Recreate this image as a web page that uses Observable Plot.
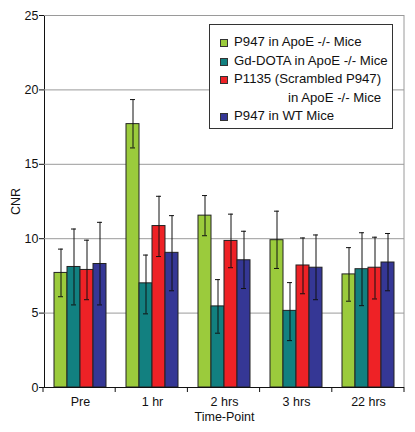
<!DOCTYPE html>
<html><head><meta charset="utf-8">
<script src="https://cdn.jsdelivr.net/npm/d3@7"></script>
<script src="https://cdn.jsdelivr.net/npm/@observablehq/plot@0.6"></script>
<style>
html,body{margin:0;padding:0;background:#fff;}
body{font-family:"Liberation Sans",Arial,Helvetica,sans-serif;}
#wrap{position:relative;width:415px;height:432px;overflow:hidden;}
#legend{position:absolute;left:209px;top:24px;width:184px;height:105px;box-sizing:border-box;border:1px solid #333;background:#fff;font-size:13.2px;color:#111;padding-top:8px;}
.item{display:flex;align-items:flex-start;line-height:18.5px;padding-left:10px;}
.sw{width:6px;height:6px;border:1px solid #333;margin-top:6px;margin-right:6px;flex:none;}
.lbl{display:inline-block;white-space:nowrap;}
.lbl .l2{text-align:right;}
</style></head>
<body>
<div id="wrap"><div id="legend"></div></div>
<script>
// ---- data ----
const timePoints = ["Pre", "1 hr", "2 hrs", "3 hrs", "22 hrs"];
const seriesNames = ["P947 in ApoE -/- Mice", "Gd-DOTA in ApoE -/- Mice", "P1135 (Scrambled P947) in ApoE -/- Mice", "P947 in WT Mice"];
const legendLines = [["P947 in ApoE -/- Mice"], ["Gd-DOTA in ApoE -/- Mice"], ["P1135 (Scrambled P947)", "in ApoE -/- Mice"], ["P947 in WT Mice"]];
const seriesColors = ["#9bcb3c", "#128080", "#ee2226", "#353795"];

const meanP947 = [7.7, 17.7, 11.55, 9.9, 7.6];
const lowP947 = [6.1, 16.1, 10.2, 8.0, 5.8];
const highP947 = [9.3, 19.35, 12.9, 11.85, 9.4];

const meanGd = [8.1, 7.0, 5.45, 5.15, 7.95];
const lowGd = [5.55, 4.95, 3.65, 3.15, 5.5];
const highGd = [10.65, 8.9, 7.25, 7.05, 10.4];

const meanP1135 = [7.9, 10.85, 9.85, 8.2, 8.05];
const lowP1135 = [5.9, 8.8, 8.05, 6.3, 5.95];
const highP1135 = [9.9, 12.85, 11.65, 10.05, 10.1];

const meanWT = [8.3, 9.05, 8.55, 8.05, 8.4];
const lowWT = [5.55, 6.5, 6.65, 5.9, 6.5];
const highWT = [11.1, 11.55, 10.5, 10.25, 10.35];

const yTicks = [0, 5, 10, 15, 20, 25];

// ---- table ----
const seriesData = [
  [meanP947, lowP947, highP947],
  [meanGd, lowGd, highGd],
  [meanP1135, lowP1135, highP1135],
  [meanWT, lowWT, highWT]
];
const rows = [];
timePoints.forEach((t, i) => {
  seriesNames.forEach((s, j) => {
    const [m, lo, hi] = seriesData[j];
    rows.push({time: t, series: s, mean: m[i], low: lo[i], high: hi[i]});
  });
});

const plot = Plot.plot({
  width: 415,
  height: 432,
  marginLeft: 43,
  marginRight: 11,
  marginTop: 15,
  marginBottom: 45,
  style: {fontFamily: "Liberation Sans, Arial, Helvetica, sans-serif", fontSize: "12.5px", background: "#fff", color: "#111", overflow: "visible"},
  fx: {domain: timePoints, padding: 0, axis: "bottom", label: "Time-Point", labelAnchor: "center", labelOffset: 33, tickSize: 0, tickPadding: 10},
  x: {domain: seriesNames, axis: null, paddingInner: 0, paddingOuter: 0.71},
  y: {domain: [0, 25], ticks: yTicks, label: "CNR", labelAnchor: "center", labelArrow: "none", labelOffset: 33, line: true, tickSize: 5, tickPadding: 1},
  color: {domain: seriesNames, range: seriesColors},
  marks: [
    Plot.ruleY(yTicks.slice(1), {stroke: "#9a9a9a", strokeWidth: 1}),
    Plot.barY(rows, {fx: "time", x: "series", y: "mean", fill: "series", stroke: "#222", strokeWidth: 1}),
    Plot.ruleX(rows, {fx: "time", x: "series", y1: "low", y2: "high", stroke: "#111", strokeWidth: 1}),
    Plot.tickY(rows, {fx: "time", x: "series", y: "low", stroke: "#111", strokeWidth: 1, insetLeft: 4, insetRight: 4}),
    Plot.tickY(rows, {fx: "time", x: "series", y: "high", stroke: "#111", strokeWidth: 1, insetLeft: 4, insetRight: 4}),
    Plot.ruleY([0], {stroke: "#111", strokeWidth: 1})
  ]
});

document.getElementById("wrap").prepend(plot);

// boundary ticks on the time axis and right border, from the plot's own scales
const svgEl = plot.tagName.toLowerCase() === "svg" ? plot : plot.querySelector("svg");
const fxs = plot.scale("fx");
const ys = plot.scale("y");
const [r0, r1] = fxs.range;
const step = (r1 - r0) / timePoints.length;
const yBottom = ys.range[0];
const yTop = ys.range[1];
const svg = d3.select(svgEl);
svg.append("line")
  .attr("x1", r1).attr("x2", r1).attr("y1", yTop).attr("y2", yBottom)
  .attr("stroke", "#9a9a9a");
const tg = svg.append("g").attr("stroke", "#111");
d3.range(timePoints.length + 1).forEach(i => {
  const x = r0 + i * step;
  tg.append("line").attr("x1", x).attr("x2", x).attr("y1", yBottom).attr("y2", yBottom + 5);
});

// legend
const legend = d3.select("#legend");
legendLines.forEach((lines, j) => {
  const item = legend.append("div").attr("class", "item");
  item.append("div").attr("class", "sw").style("background", seriesColors[j]);
  const lbl = item.append("div").attr("class", "lbl");
  lines.forEach((ln, k) => lbl.append("div").attr("class", k ? "l2" : "l1").text(ln));
});
</script>
</body></html>
